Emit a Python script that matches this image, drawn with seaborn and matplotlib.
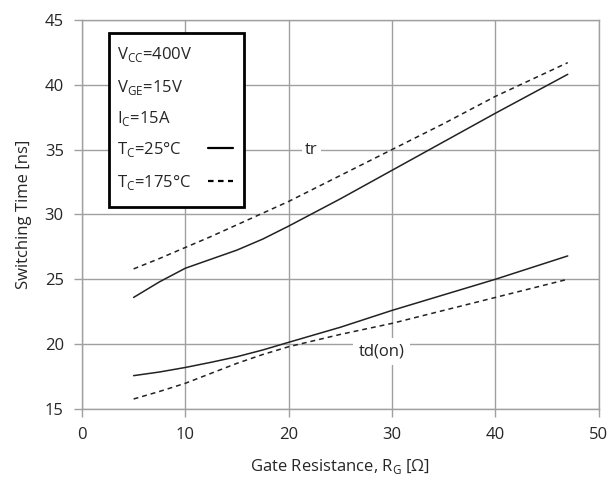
import numpy as np
import pandas as pd
import matplotlib
matplotlib.use("Agg")
import matplotlib.pyplot as plt
import seaborn as sns
from matplotlib.patches import Rectangle
from matplotlib.lines import Line2D

# ---- data ----
rg = [5, 7.5, 10, 12.5, 15, 17.5, 20, 25, 30, 35, 40, 47]
tr_25 = [23.6, 24.8, 25.85, 26.55, 27.25, 28.1, 29.1, 31.2, 33.4, 35.6, 37.8, 40.8]
tr_175 = [25.8, 26.6, 27.45, 28.3, 29.2, 30.1, 31.0, 33.0, 35.0, 37.0, 39.1, 41.7]
tdon_25 = [17.57, 17.85, 18.2, 18.6, 19.03, 19.55, 20.14, 21.3, 22.6, 23.8, 25.0, 26.8]
tdon_175 = [15.77, 16.35, 16.98, 17.75, 18.52, 19.2, 19.8, 20.75, 21.6, 22.6, 23.6, 25.0]
x_ticks = [0, 10, 20, 30, 40, 50]
y_ticks = [15, 20, 25, 30, 35, 40, 45]
cond_lines = ["V$_\\mathregular{CC}$=400V", "V$_\\mathregular{GE}$=15V", "I$_\\mathregular{C}$=15A"]
temp_labels = ["T$_\\mathregular{C}$=25°C", "T$_\\mathregular{C}$=175°C"]

sns.set_style("white")
plt.rcParams["font.family"] = ["Open Sans", "DejaVu Sans"]

fig = plt.figure(figsize=(6.16, 4.84), dpi=100)
ax = fig.add_axes([0.133, 0.155, 0.839, 0.804])

grid_c = "#a0a0a0"
line_c = "#222222"
series = [(tr_25, "solid"), (tr_175, "dashed"), (tdon_25, "solid"), (tdon_175, "dashed")]
for ys, st in series:
    df = pd.DataFrame({"x": rg, "y": ys})
    if st == "solid":
        sns.lineplot(data=df, x="x", y="y", ax=ax, color=line_c, lw=1.1, zorder=3)
    else:
        sns.lineplot(data=df, x="x", y="y", ax=ax, color=line_c, lw=1.1,
                     dashes=False, zorder=3, linestyle=(0, (3.2, 2.6)))

ax.set_xlim(0, 50)
ax.set_ylim(15, 45)
ax.set_xticks(x_ticks)
ax.set_yticks(y_ticks)
ax.grid(True, color=grid_c, lw=1.0)
ax.set_axisbelow(True)
for s in ax.spines.values():
    s.set_color(grid_c)
    s.set_linewidth(1.0)
ax.tick_params(axis="both", length=6, width=1.0, color=grid_c, labelsize=12, pad=7,
               direction="out", bottom=True, left=True)
ax.set_xlabel("Gate Resistance, R$_\\mathregular{G}$ [Ω]", fontsize=12, labelpad=10)
ax.set_ylabel("Switching Time [ns]", fontsize=12, labelpad=9)

# curve labels
bb = dict(facecolor="white", edgecolor="none", pad=2)
ax.text(22.2, 35.0, "tr", fontsize=12, ha="center", va="center", bbox=bb, zorder=4)
ax.text(29.0, 19.4, "td(on)", fontsize=12, ha="center", va="center",
        bbox=dict(facecolor="white", edgecolor="none", pad=4), zorder=4)

# condition box
ax.add_patch(Rectangle((0.052, 0.519), 0.261, 0.448, transform=ax.transAxes,
                       facecolor="white", edgecolor="black", lw=2.0, zorder=5))
rows_y = [0.910, 0.825, 0.747, 0.666, 0.581]
for txt, yy in zip(cond_lines + temp_labels, rows_y):
    ax.text(0.067, yy, txt, transform=ax.transAxes, fontsize=12, va="center", ha="left", zorder=6)
for yy, ls in zip(rows_y[3:], ["solid", (0, (2.5, 2.0))]):
    ax.add_line(Line2D([0.244, 0.292], [yy + 0.005, yy + 0.005], transform=ax.transAxes,
                       color="black", lw=1.6, linestyle=ls, zorder=6))

fig.savefig("out.png", dpi=100)
